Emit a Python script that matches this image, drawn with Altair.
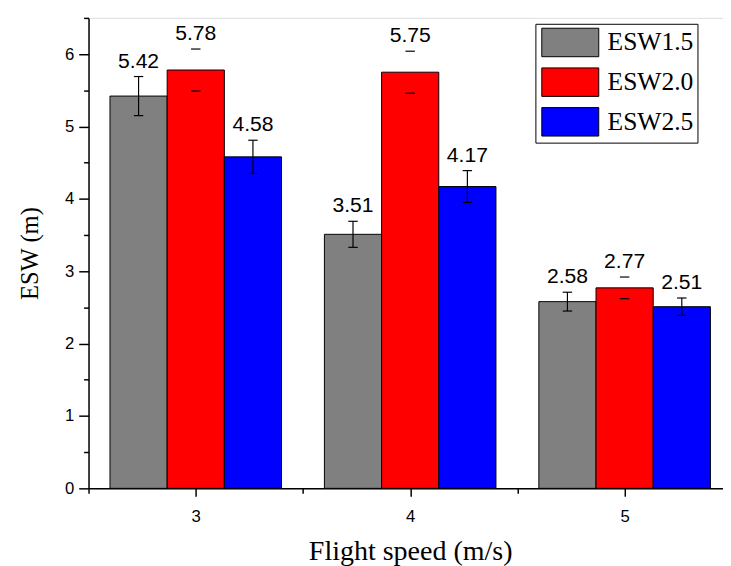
import altair as alt
import pandas as pd

speeds = [3, 4, 5]
series = ["ESW1.5", "ESW2.0", "ESW2.5"]
esw15 = [5.42, 3.51, 2.58]
esw20 = [5.78, 5.75, 2.77]
esw25 = [4.58, 4.17, 2.51]
err15 = [0.27, 0.18, 0.13]
err20 = [0.29, 0.29, 0.15]
err25 = [0.23, 0.22, 0.12]
colors = ["#808080", "#ff0000", "#0000ff"]
x_major = [3, 4, 5]
x_minor = [2.5, 3.5, 4.5]
y_major = [0, 1, 2, 3, 4, 5, 6]
y_minor = [0.5, 1.5, 2.5, 3.5, 4.5, 5.5, 6.5]

rows = []
for k, (name, vals, errs) in enumerate(zip(series, [esw15, esw20, esw25], [err15, err20, err25])):
    for s, v, e in zip(speeds, vals, errs):
        rows.append({"speed": s, "series": name, "idx": k, "value": v,
                     "err": e, "label": f"{v:.2f}"})
df = pd.DataFrame(rows)

BW = 0.8 / 3
CAP = 0.022
PLOT_W = 646
XMAX = 2.5 + 3 * PLOT_W / 655  # axis continues past the right edge

xscale = alt.Scale(domain=[2.5, XMAX], nice=False, zero=False)
yscale = alt.Scale(domain=[0, 6.5], nice=False, zero=True)

common = dict(domainColor="black", tickColor="black", tickWidth=1.5, grid=False)

xaxis = alt.Axis(
    values=x_major, format=".0f", tickSize=8, orient="bottom",
    labelFont="Liberation Sans", labelFontSize=17, labelColor="black",
    labelPadding=13, labelFlush=False,
    title="Flight speed (m/s)", titleFont="Liberation Serif", titleFontSize=28.5,
    titleFontWeight="normal", titleColor="black", titlePadding=12, titleX=327.5,
    domainWidth=1.5, **common,
)
yaxis = alt.Axis(
    values=y_major, format=".0f", tickSize=10, orient="left",
    labelFont="Liberation Sans", labelFontSize=17, labelColor="black",
    labelPadding=5, labelFlush=False,
    title="ESW (m)", titleFont="Liberation Serif", titleFontSize=25,
    titleFontWeight="normal", titleColor="black", titlePadding=23,
    domainWidth=1.5, **common,
)
xaxis_minor = alt.Axis(values=x_minor, tickSize=5, labels=False, domain=False,
                       orient="bottom", title=None, **common)
yaxis_minor = alt.Axis(values=y_minor, tickSize=5, labels=False, domain=False,
                       orient="left", title=None, **common)

base = (
    alt.Chart(df)
    .transform_calculate(xc=f"datum.speed + (datum.idx - 1) * {BW}")
    .transform_calculate(x0=f"datum.xc - {BW / 2}", x1=f"datum.xc + {BW / 2}",
                         lo="datum.value - datum.err", hi="datum.value + datum.err",
                         c0=f"datum.xc - {CAP}", c1=f"datum.xc + {CAP}")
)

bars = base.mark_bar(stroke="black", strokeWidth=1).encode(
    x=alt.X("x0:Q", scale=xscale, axis=xaxis),
    x2="x1:Q",
    y=alt.Y("value:Q", scale=yscale, axis=yaxis),
    y2=alt.Y2(datum=0),
    color=alt.Color(
        "series:N",
        scale=alt.Scale(domain=series, range=colors),
        legend=alt.Legend(
            orient="none", legendX=455, legendY=6, title=None,
            strokeColor="black", fillColor="white", padding=4,
            symbolType="M-2,-1L2,-1L2,1L-2,1Z", symbolSize=841,
            symbolOffset=16.5,
            symbolStrokeColor="black", symbolStrokeWidth=1, symbolOpacity=1,
            labelFont="Liberation Serif", labelFontSize=26, labelColor="black",
            labelOffset=23, rowPadding=6.4,
        ),
    ),
)

whisk = base.transform_filter("datum.idx != 1").mark_rule(color="black", strokeWidth=1.2).encode(
    x=alt.X("xc:Q", scale=xscale, axis=None),
    y=alt.Y("lo:Q", scale=yscale, axis=None),
    y2="hi:Q",
)
cap_hi = base.mark_rule(color="black", strokeWidth=1.2).encode(
    x=alt.X("c0:Q", scale=xscale, axis=xaxis_minor), x2="c1:Q",
    y=alt.Y("hi:Q", scale=yscale, axis=yaxis_minor),
)
cap_lo = base.mark_rule(color="black", strokeWidth=1.2).encode(
    x=alt.X("c0:Q", scale=xscale, axis=None), x2="c1:Q",
    y=alt.Y("lo:Q", scale=yscale, axis=None),
)
labels = base.mark_text(dy=-4, baseline="bottom", font="Liberation Sans",
                        fontSize=21.5, color="black").encode(
    x=alt.X("xc:Q", scale=xscale, axis=None),
    y=alt.Y("hi:Q", scale=yscale, axis=None),
    text="label:N",
)

chart = (
    alt.layer(bars, whisk, cap_hi, cap_lo, labels)
    .resolve_axis(x="independent", y="independent")
    .properties(width=PLOT_W, height=479, autosize="none",
                padding={"left": 82, "top": 5, "right": 0, "bottom": 76})
    .configure_view(stroke="transparent", strokeWidth=0)
    .configure(background="white")
)

chart.save("out.html", embed_options={"renderer": "svg", "actions": False})
